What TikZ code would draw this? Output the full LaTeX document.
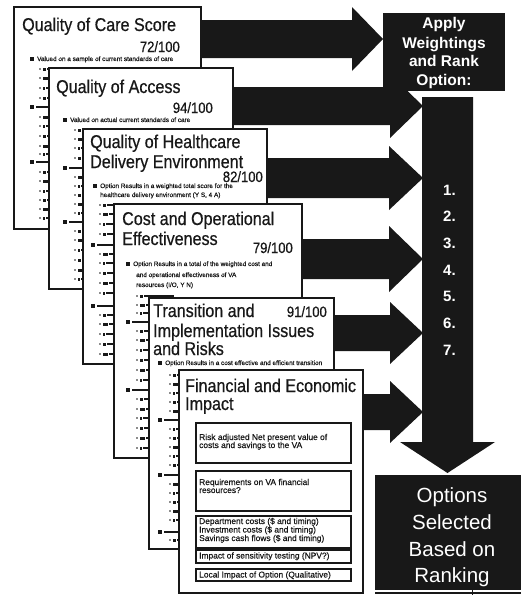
\documentclass[tikz,border=0pt]{standalone}
\usepackage{fontspec}
\setmainfont{Liberation Sans}
\newfontfamily\headfont[FakeStretch=0.87,FakeBold=0.6]{Liberation Sans}
\newfontfamily\smallfont[FakeBold=0.5]{Liberation Sans}
\definecolor{ink}{RGB}{24,24,24}

\tikzset{
  sheet/.style={draw=ink, line width=1.8pt, fill=white, inner sep=0, anchor=north west},
  ttl/.style={anchor=base west, inner sep=0, text=ink, font=\headfont\fontsize{18.5}{20}\selectfont},
  score/.style={anchor=base east, inner sep=0, text=ink, font=\headfont\fontsize{15}{16}\selectfont},
  note/.style={anchor=base west, inner sep=0, text=ink, font=\smallfont\fontsize{6.4}{7}\selectfont},
  inbox/.style={draw=ink, line width=1.5pt, fill=white, inner sep=0, anchor=north west, minimum width=155},
  boxnote/.style={anchor=base west, inner sep=0, text=ink, font=\smallfont\fontsize{8.4}{9}\selectfont},
  blk/.style={fill=ink, draw=none},
  headline/.style={anchor=base, inner sep=0, text=white, font=\bfseries\fontsize{15.5}{16}\selectfont},
  rankno/.style={anchor=base west, inner sep=0, text=white, font=\bfseries\fontsize{15}{16}\selectfont},
  outline/.style={anchor=base, inner sep=0, text=white, font=\fontsize{20.5}{22}\selectfont},
}

% block arrow: start x, centre y, shaft half height, head half height, head back x, tip x
\newcommand\blkarrow[6]{%
  \fill[blk] (#1,#2-#3) -- (#5,#2-#3) -- (#5,#2-#4) -- (#6,#2)
    -- (#5,#2+#4) -- (#5,#2+#3) -- (#1,#2+#3) -- cycle;}

% bullet squares and sub-item dots showing down the edge of a sheet
% #1 bullet x, #2 bullet ys, #3 dot x, #4 dot ys
\newcommand\sheetmarks[4]{%
  \foreach \yy in {#2} {
    \fill[ink] (#1-1.6,\yy-1.6) rectangle ++(3.2,3.2);
    \fill[ink] (#1+4,\yy-1.2) rectangle ++(40,2.4);
  }
  \foreach \yy [count=\i] in {#4} {
    \fill[ink] (#3,\yy) circle (0.9);
    \pgfmathsetmacro\ww{1.5+1.5*mod(\i,3)}
    \fill[ink] (#3+3,\yy-1.5) rectangle ++(\ww,3);
    \fill[ink] (#3+4+\ww,\yy-1) rectangle ++(30,2);
  }
}

\begin{document}
\begin{tikzpicture}[x=1pt,y=-1pt]
\useasboundingbox[fill=white] (0,0) rectangle (523,595);

% ---- arrows feeding the ranking column
\blkarrow{190}{39}{19}{32}{352}{383}
\blkarrow{225}{106}{19}{32}{390}{423}
\blkarrow{260}{178}{20}{32}{389}{423}
\blkarrow{295}{259}{20}{33}{389}{423}
\blkarrow{325}{333}{18}{31}{390}{423}
\blkarrow{355}{412}{18}{31}{390}{423}

% ---- sheet 1
\node[sheet, minimum width=187, minimum height=222] (p1) at (13,6) {};
\node[ttl] (p1t) at (22,31) {Quality of Care Score};
\node[score] (p1s) at (180,52) {72/100};
\fill[ink] (30.4,57.4) rectangle ++(3.2,3.2);
\node[note] (p1n) at (37,61) {Valued on a sample of current standards of care};
\sheetmarks{32}{107,162}{40}{69,78,88,98,117,126,136,146,154,172,181,191,200,209,218}

% ---- sheet 2
\node[sheet, minimum width=184, minimum height=221] (p2) at (48,67) {};
\node[ttl] (p2t) at (56,93) {Quality of Access};
\node[score] (p2s) at (213,113) {94/100};
\fill[ink] (63.4,118.4) rectangle ++(3.2,3.2);
\node[note] (p2n) at (70,122) {Valued on actual current standards of care};
\sheetmarks{65}{168,222}{75}{130,139,148,158,177,186,195,204,213,231,240,250,260,270,279}

% ---- sheet 3
\node[sheet, minimum width=184, minimum height=235] (p3) at (82,128) {};
\node[ttl] (p3t) at (90,148) {Quality of Healthcare};
\node[ttl] (p3u) at (90,168) {Delivery Environment};
\node[score] (p3s) at (263,182) {82/100};
\fill[ink] (93.4,184.4) rectangle ++(3.2,3.2);
\node[note] (p3n) at (100,188) {Option Results in a weighted total score for the};
\node[note] (p3m) at (100,197) {healthcare delivery environment (Y S, 4 A)};
\sheetmarks{93}{245,306}{100}{205,214,224,234,254,263,273,283,293,315,324,334,344,354}

% ---- sheet 4
\node[sheet, minimum width=188, minimum height=254] (p4) at (113,203) {};
\node[ttl] (p4t) at (122,225) {Cost and Operational};
\node[ttl] (p4u) at (122,245) {Effectiveness};
\node[score] (p4s) at (293,253) {79/100};
\fill[ink] (126.4,262.4) rectangle ++(3.2,3.2);
\node[note] (p4n) at (133,266) {Option Results in a total of the weighted cost and};
\node[note] (p4m) at (136,277) {and operational effectiveness of VA};
\node[note] (p4o) at (136,287) {resources (I/O, Y N)};
\sheetmarks{128}{322,390}{137}{296,305,313,331,340,350,360,370,380,399,409,418,428,438,448}

% ---- sheet 5
\node[sheet, minimum width=185, minimum height=251] (p5) at (148,297) {};
\node[ttl] (p5t) at (153,317) {Transition and};
\node[ttl] (p5u) at (153,337) {Implementation Issues};
\node[ttl] (p5v) at (153,355) {and Risks};
\node[score] (p5s) at (327,317) {91/100};
\fill[ink] (158.4,361.4) rectangle ++(3.2,3.2);
\node[note] (p5n) at (165,365) {Option Results in a cost effective and efficient transition};
\sheetmarks{160}{420,475,532}{170}{375,384,393,402,411,429,438,447,456,465,484,493,502,511,520,540}

% ---- sheet 6
\node[sheet, minimum width=184, minimum height=223] (p6) at (178,369) {};
\node[ttl] (p6t) at (185,392) {Financial and Economic};
\node[ttl] (p6u) at (185,410) {Impact};
\node[inbox, minimum height=40] (fa) at (195,422) {};
\node[boxnote] at (199,440) {Risk adjusted Net present value of};
\node[boxnote] at (199,448) {costs and savings to the VA};
\node[inbox, minimum height=40] (fb) at (195,470) {};
\node[boxnote] at (199,485) {Requirements on VA financial};
\node[boxnote] at (199,493) {resources?};
\node[inbox, minimum height=32] (fc) at (195,515) {};
\node[boxnote] at (199,524) {Department costs (\$ and timing)};
\node[boxnote] at (199,532.5) {Investment costs (\$ and timing)};
\node[boxnote] at (199,541) {Savings cash flows (\$ and timing)};
\node[inbox, minimum height=13] (fd) at (195,549) {};
\node[boxnote] at (199,558.5) {Impact of sensitivity testing (NPV?)};
\node[inbox, minimum height=12] (fe) at (195,568) {};
\node[boxnote] at (199,577.5) {Local Impact of Option (Qualitative)};

% ---- ranking column with its downward arrow
\fill[blk] (422,97) -- (473,97) -- (473,442) -- (495,442) -- (447.5,473)
  -- (400,442) -- (422,442) -- cycle;
\foreach \n [count=\k] in {1,...,7}
  \node[rankno] (r\n) at (443,{195+26.67*(\k-1)}) {\n.};

% ---- weighting box
\node[blk, anchor=north west, minimum width=122, minimum height=78, inner sep=0] (apply) at (383,13) {};
\node[headline] at (444,28) {Apply};
\node[headline] at (444,48) {Weightings};
\node[headline] at (444,66) {and Rank};
\node[headline] at (444,85) {Option:};

% ---- result box
\node[blk, anchor=north west, minimum width=146, minimum height=115, inner sep=0] (opts) at (375,475) {};
\node[outline] at (452,502) {Options};
\node[outline] at (452,529) {Selected};
\node[outline] at (452,556) {Based on};
\node[outline] at (452,582) {Ranking};
\draw[ink, line width=1.5pt] (375,593) -- (521,593);
\draw[ink, line width=1pt] (472,590) -- (472,595);
\end{tikzpicture}
\end{document}
